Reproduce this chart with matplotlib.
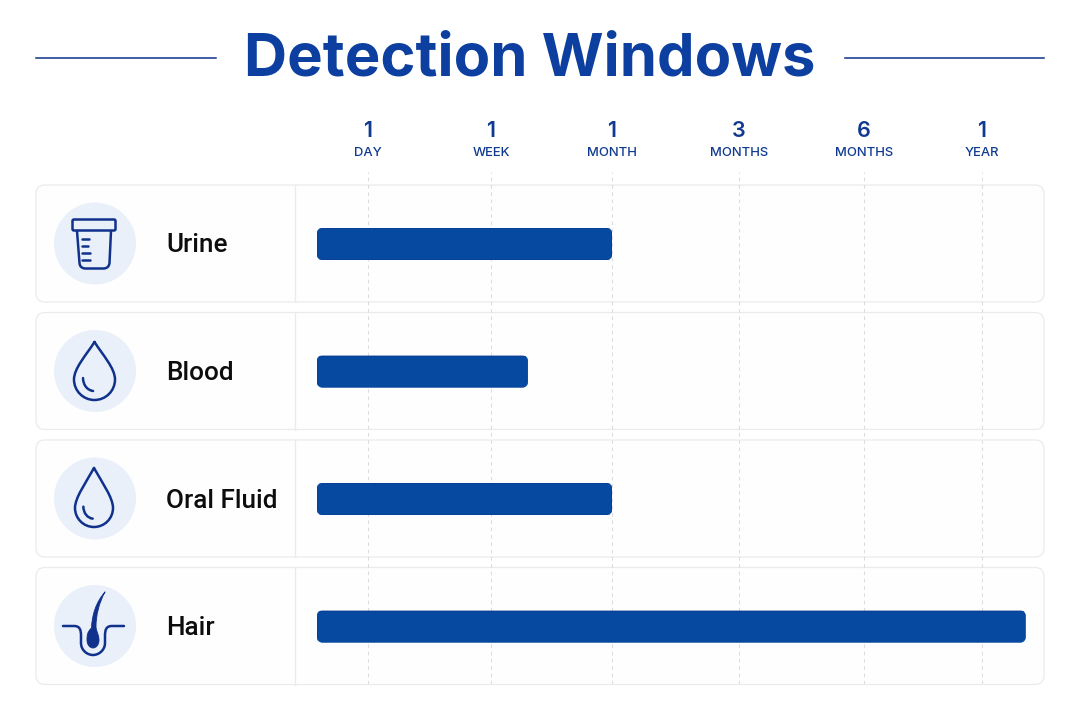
import numpy as np
import matplotlib
matplotlib.use('Agg')
import matplotlib.pyplot as plt
from matplotlib.patches import Circle, FancyBboxPatch, PathPatch
from matplotlib.path import Path
from matplotlib.transforms import IdentityTransform, blended_transform_factory

categories = ['Urine', 'Blood', 'Oral Fluid', 'Hair']
window_days = [30, 14, 30, 500]
tick_days = [1, 7, 30, 90, 180, 365]
tick_numbers = ['1', '1', '1', '3', '6', '1']
tick_units = ['DAY', 'WEEK', 'MONTH', 'MONTHS', 'MONTHS', 'YEAR']

BAR = '#054aa0'
TITLE = '#0c3f9f'
AXIS_TEXT = '#0f3a90'
ICON = '#10318c'
TINT = '#e9f0f9'
BORDER = '#ebebeb'

# the time axis is stretched by hand, day -> pixel
scale_days = [0, 1, 7, 30, 90, 180, 365, 730]
scale_px = [317, 368, 491, 612, 739, 864, 982, 1100]

def to_px(d):
    return np.interp(d, scale_days, scale_px)

def to_days(p):
    return np.interp(p, scale_px, scale_days)

W, H = 1080, 720
row0, row_step = 244, 127.5

fig = plt.figure(figsize=(10.8, 7.2), dpi=100, facecolor='white')

# background layer in image pixels
bg = fig.add_axes([0, 0, 1, 1], zorder=0)
bg.set_xlim(0, W)
bg.set_ylim(H, 0)
bg.axis('off')

top, bottom = 172, 684
left, right = 317, 1044
ax = fig.add_axes([left / W, 1 - bottom / H, (right - left) / W, (bottom - top) / H], zorder=1)
ax.patch.set_alpha(0)
ax.set_xscale('function', functions=(to_px, to_days))
ax.set_xlim(0, to_days(right))
for s in ax.spines.values():
    s.set_visible(False)

ax.set_xticks(tick_days)
ax.minorticks_off()
ax.tick_params(axis='x', length=0, labelbottom=False)
ax.grid(axis='x', color='#dcdcdc', lw=0.75, ls=(0, (3.5, 3.5)))
ax.set_axisbelow(True)

bars = ax.barh(categories, window_days, height=32 / row_step, color=BAR,
               edgecolor='#0b3f96', lw=1.2, zorder=3)
ax.set_yticks([])
ax.set_ylim((bottom - row0) / row_step, (top - row0) / row_step)
fig.canvas.draw()

# round the bar corners with a clip box
for b in bars:
    e = b.get_window_extent()
    box = FancyBboxPatch((e.x0, e.y0), e.width, e.height,
                         boxstyle='round,pad=0,rounding_size=5.5')
    b.set_clip_path(box.get_path(), IdentityTransform())

# time labels over the axis
xt = ax.get_xaxis_transform()
for d, n, u in zip(tick_days, tick_numbers, tick_units):
    ax.text(d, 1 + 41 / (bottom - top), n, transform=xt, ha='center', va='center',
            family='Inter', fontweight='semibold', fontsize=15.5, color=AXIS_TEXT, clip_on=False)
    ax.text(d, 1 + 19.5 / (bottom - top), u, transform=xt, ha='center', va='center',
            family='Inter', fontweight='medium', fontsize=9.4, color=AXIS_TEXT, clip_on=False)

# title
bg.text(530, 76, 'Detection Windows', ha='center', va='baseline', family='Inter',
        fontweight='bold', fontsize=43, color=TITLE)
bg.plot([36, 216], [58, 58], color=ICON, lw=1.1)
bg.plot([845, 1044], [58, 58], color=ICON, lw=1.1)

# cards
ytr = blended_transform_factory(bg.transData, ax.transData)
for i, name in enumerate(categories):
    c = row0 + i * row_step
    bg.add_patch(FancyBboxPatch((36, c - 59), 1008, 117, boxstyle='round,pad=0,rounding_size=9',
                                fc='#fefefe', ec=BORDER, lw=0.9))
    bg.plot([295, 295], [c - 59, c + 58], color=BORDER, lw=0.9)
    bg.add_patch(Circle((95, c - 0.5), 41, fc=TINT, ec='none'))
    bg.text(166.5, i + 1.5 / row_step, name, transform=ytr, ha='left', va='center', family='Roboto',
            fontweight='medium', fontsize=18.8, color='#0d0d0d', zorder=3)

def stroke(pts, codes=None, fill='none', lw=1.8):
    bg.add_patch(PathPatch(Path(pts, codes), fc=fill, ec=ICON, lw=lw, capstyle='round',
                           joinstyle='round', zorder=4))

def drop(cx, tip, cy, r):
    k = 0.5523 * r
    h = cy - tip
    pts = [(cx, tip),
           (cx + 0.42 * r, tip + 0.36 * h), (cx + r, cy - 0.55 * r), (cx + r, cy),
           (cx + r, cy + k), (cx + k, cy + r), (cx, cy + r),
           (cx - k, cy + r), (cx - r, cy + k), (cx - r, cy),
           (cx - r, cy - 0.55 * r), (cx - 0.42 * r, tip + 0.36 * h), (cx, tip)]
    stroke(pts, [Path.MOVETO] + [Path.CURVE4] * 12)
    stroke([(cx - 0.56 * r, cy - 0.07 * r), (cx - 0.55 * r, cy + 0.28 * r),
            (cx - 0.35 * r, cy + 0.52 * r), (cx - 0.07 * r, cy + 0.56 * r)],
           [Path.MOVETO, Path.CURVE4, Path.CURVE4, Path.CURVE4])

# urine cup
bg.add_patch(FancyBboxPatch((72.5, 219.5), 43, 11, boxstyle='round,pad=0,rounding_size=1.5',
                            fc='none', ec=ICON, lw=1.8, zorder=4))
stroke([(77, 231), (79.5, 263), (79.8, 268), (85, 268.5), (104, 268.5), (109, 268), (109.5, 263), (111, 231)],
       [Path.MOVETO, Path.LINETO, Path.CURVE3, Path.CURVE3, Path.LINETO, Path.CURVE3, Path.CURVE3, Path.LINETO])
for y, x1 in zip([238.7, 245.5, 252.5, 260], [89, 88, 90, 90]):
    stroke([(82, y), (x1, y)])

# blood and oral fluid
drop(94.5, 342, 379.5, 20.5)
drop(94, 468, 508, 19)

# hair
C4, LN = Path.CURVE4, Path.LINETO
stroke([(63, 626), (74, 626), (80, 626), (81, 630), (81, 636), (81, 643),
        (81, 650), (87, 655), (93, 655), (99, 655), (105, 650), (105, 643),
        (105, 636), (105, 630), (106, 626), (112, 626), (124, 626)],
       [Path.MOVETO, LN, C4, C4, C4, LN, C4, C4, C4, C4, C4, C4, LN, C4, C4, C4, LN])
hair = [(105, 592), (96, 602), (92, 615), (91.5, 628), (87, 632), (87, 636), (87, 640),
        (87, 645), (90, 648), (93, 648), (96, 648), (99, 645), (99, 640),
        (99, 635), (96.5, 632), (96, 627), (96, 615), (99, 603), (105, 592)]
stroke(hair, [Path.MOVETO] + [C4] * 18, fill=ICON, lw=0.6)

fig.savefig('out.png', dpi=100)
